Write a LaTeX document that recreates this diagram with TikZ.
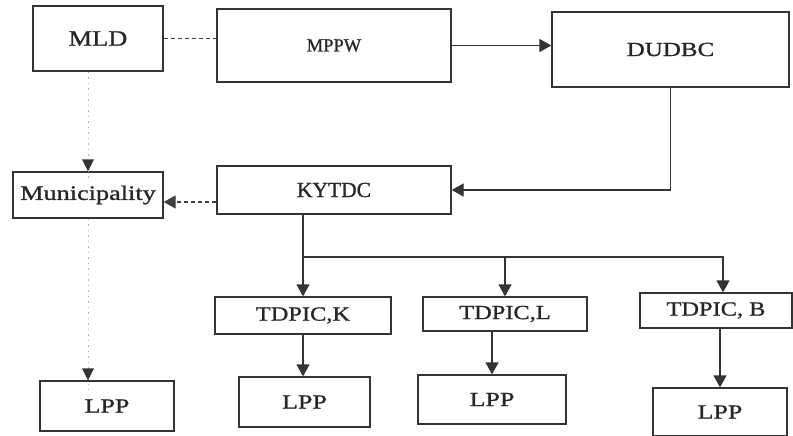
\documentclass[tikz,border=0pt]{standalone}
\usepackage{fontspec}
\setmainfont{Liberation Serif}[FakeBold=1.0]
\usetikzlibrary{arrows.meta}
\begin{document}
\begin{tikzpicture}[x=1pt,y=-1pt,
  box/.style={draw=black!80,line width=1.3pt,rectangle,inner sep=0pt,text=black!85},
  txt/.style 2 args={font=\fontsize{#1}{#1}\selectfont\addfontfeature{FakeStretch=#2}},
  plain/.style={font=\fontsize{#1}{#1}\selectfont},
  tip/.style={-{Triangle[length=12pt,width=13pt]}},
  arr/.style={draw=black!80,line width=1.3pt,tip},
  dsh/.style={draw=black!75,line width=1.3pt,dash pattern=on 4pt off 3pt},
  dot/.style={draw=black!30,line width=1pt,dash pattern=on 1.5pt off 4pt}]
\useasboundingbox[fill=white] (0,0) rectangle (793,436);
\node[box,txt={22}{1.2},minimum width=130pt,minimum height=65pt] (MLD) at (98,38.5) {MLD};
\node[box,plain=18.5,minimum width=234pt,minimum height=73pt] (MPPW) at (334,45.5) {MPPW};
\node[box,txt={20}{1.25},minimum width=237pt,minimum height=75pt] (DUDBC) at (670.5,49.5) {DUDBC};
\node[box,plain=21.5,minimum width=234pt,minimum height=48pt] (KY) at (334,190) {KYTDC};
\node[box,txt={20.5}{1.28},minimum width=150pt,minimum height=46pt] (Mun) at (88,195) {Municipality};
\node[box,txt={20}{1.22},minimum width=176pt,minimum height=37pt] (TK) at (303,315.5) {TDPIC,K};
\node[box,txt={20}{1.22},minimum width=164pt,minimum height=34pt] (TL) at (505,314) {TDPIC,L};
\node[box,txt={20}{1.22},minimum width=152pt,minimum height=35pt] (TB) at (716,310.5) {TDPIC, B};
\node[box,txt={20}{1.3},minimum width=134pt,minimum height=50pt] (L1) at (107,406) {LPP};
\node[box,txt={20}{1.3},minimum width=131pt,minimum height=50pt] (L2) at (304.5,402) {LPP};
\node[box,txt={20}{1.3},minimum width=148pt,minimum height=49pt] (L3) at (492,399.5) {LPP};
\node[box,txt={20}{1.3},minimum width=134pt,minimum height=48pt] (L4) at (720,412) {LPP};
\coordinate (br) at (303,257);
\coordinate (bb) at (723,257);
\coordinate (kw) at ([yshift=-12pt]KY.west);
% top row
\draw[dsh] (MLD.east) -- (MLD.east -| MPPW.west);
\draw[arr] (MPPW.east) -- (MPPW.east -| DUDBC.west);
\draw[arr] (DUDBC.south) |- (KY.east);
\draw[arr,dsh] (kw) -- (kw -| Mun.east);
\draw[dot] (Mun.north |- MLD.south) -- ([yshift=-10pt]Mun.north);
\fill[black!80] (Mun.north) -- ++(-6,-12) -- ++(12,0) -- cycle;
\draw[dot] (Mun.south) -- ([yshift=-10pt]Mun.south |- L1.north);
\fill[black!80] (Mun.south |- L1.north) -- ++(-6,-12) -- ++(12,0) -- cycle;
% branching
\draw[arr] (KY.south -| br) -- (TK.north);
\draw[arr] (br) -- (bb) -- (bb |- TB.north);
\draw[arr] (br -| TL.north) -- (TL.north);
\draw[arr] (TK.south) -- (TK.south |- L2.north);
\draw[arr] (L3.north |- TL.south) -- (L3.north);
\draw[arr] (L4.north |- TB.south) -- (L4.north);
\end{tikzpicture}
\end{document}
